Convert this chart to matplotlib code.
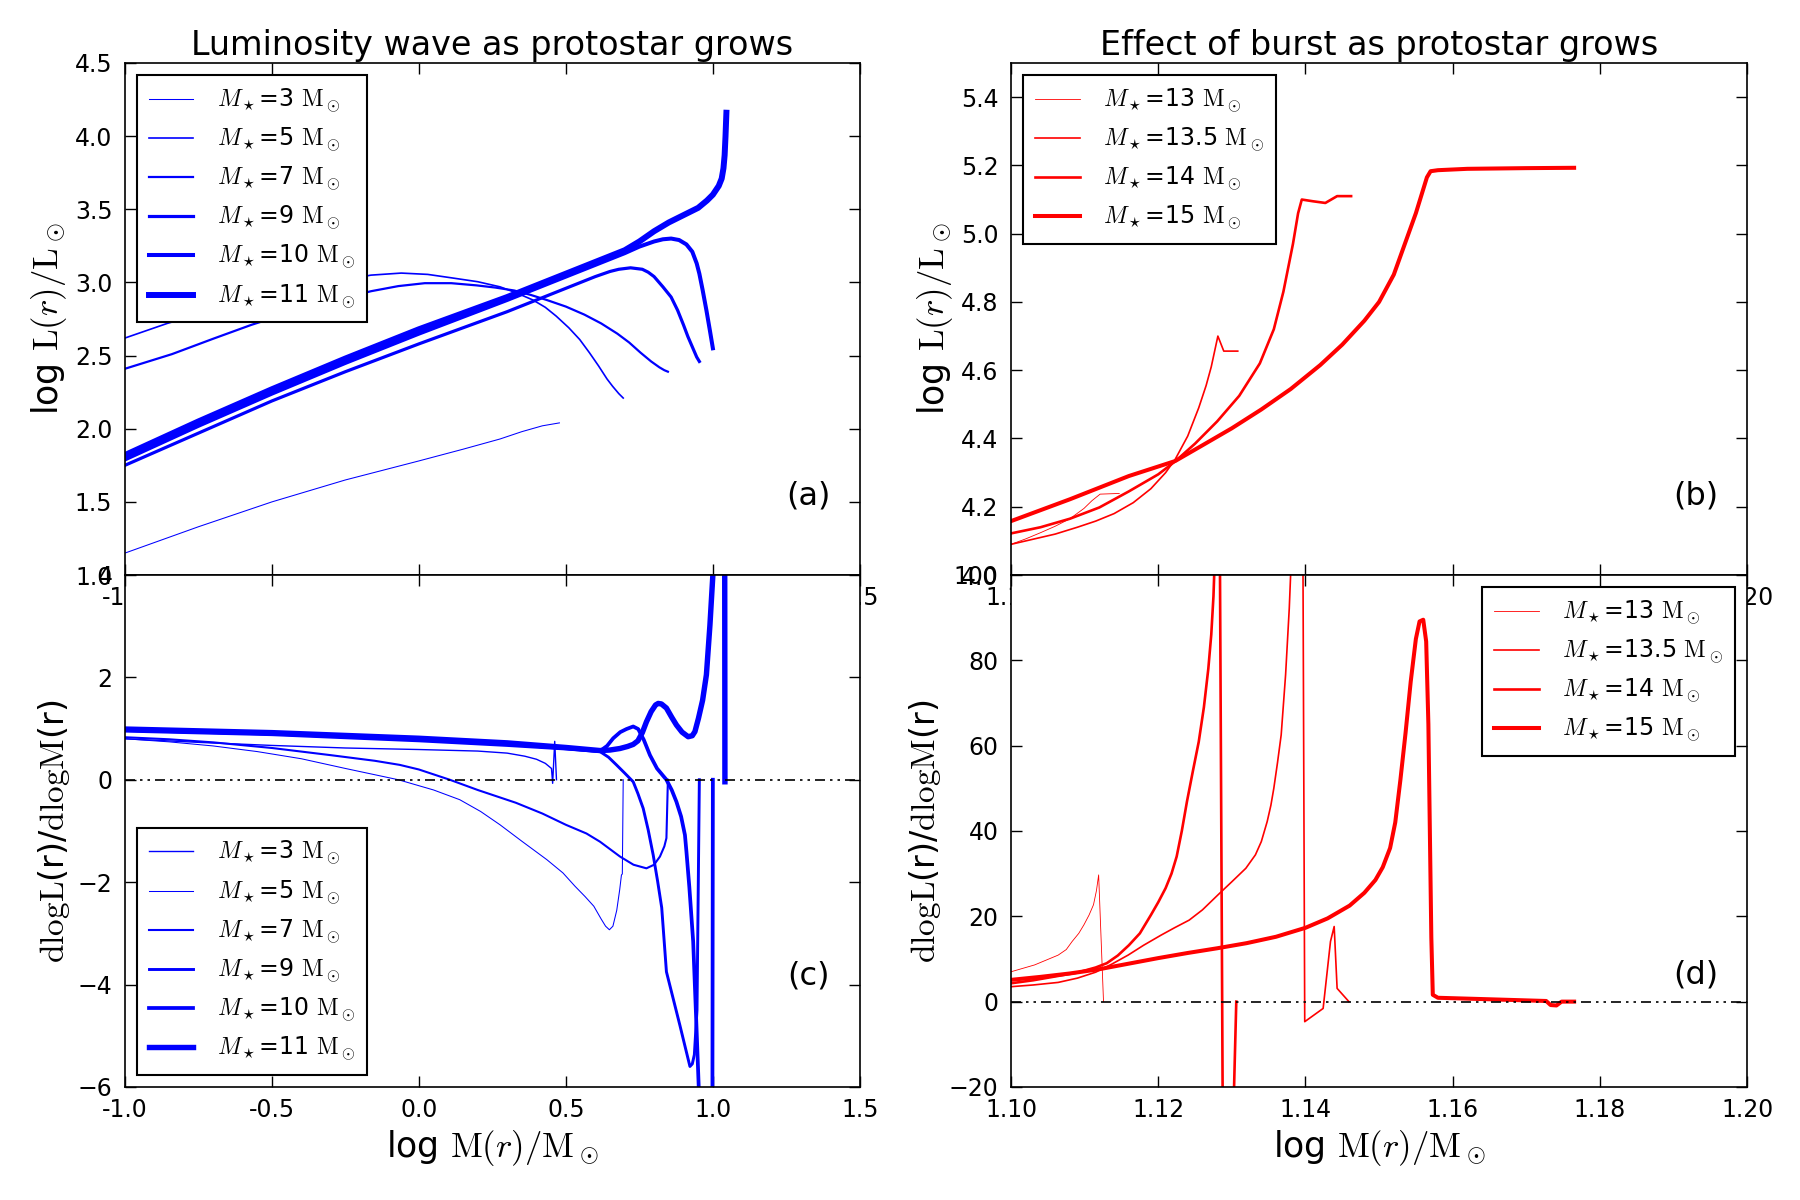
import matplotlib
matplotlib.use('Agg')
import matplotlib.pyplot as plt

plt.rcParams.update({
    'font.family': ['DejaVu Sans'],
    'mathtext.fontset': 'cm',
    'xtick.direction': 'in', 'ytick.direction': 'in',
    'xtick.top': True, 'ytick.right': True,
    'xtick.major.size': 8, 'ytick.major.size': 8,
    'xtick.major.width': 1, 'ytick.major.width': 1,
    'xtick.major.pad': 8, 'ytick.major.pad': 9,
    'xtick.labelsize': 17, 'ytick.labelsize': 17,
    'axes.linewidth': 1.2,
    'legend.fancybox': False,
    'legend.edgecolor': 'black',
    'legend.framealpha': 1,
})

# ---------------- panel (a): log L(r) ----------------
left_masses = ['3', '5', '7', '9', '10', '11']
a3_x = [-1.0, -0.75, -0.5, -0.25, 0.0, 0.15, 0.276, 0.35, 0.42, 0.478]
a3_y = [1.15, 1.33, 1.50, 1.65, 1.78, 1.86, 1.93, 1.98, 2.02, 2.04]
a5_x = [-1.0, -0.856, -0.7, -0.5, -0.3, -0.163, -0.06, 0.03, 0.116, 0.2, 0.276, 0.33, 0.388, 0.43,
        0.467, 0.51, 0.547, 0.58, 0.611, 0.64, 0.659, 0.68, 0.695]
a5_y = [2.62, 2.72, 2.81, 2.92, 3.00, 3.05, 3.064, 3.055, 3.03, 3.005, 2.97, 2.93, 2.88, 2.83,
        2.77, 2.69, 2.61, 2.52, 2.43, 2.34, 2.29, 2.24, 2.21]
a7_x = [-1.0, -0.84, -0.7, -0.57, -0.43, -0.3, -0.163, -0.07, 0.02, 0.11, 0.196, 0.26, 0.324, 0.38,
        0.435, 0.5, 0.563, 0.62, 0.675, 0.715, 0.754, 0.79, 0.818, 0.835, 0.847]
a7_y = [2.41, 2.51, 2.615, 2.71, 2.80, 2.87, 2.94, 2.975, 2.995, 2.995, 2.98, 2.965, 2.945, 2.915,
        2.88, 2.835, 2.78, 2.72, 2.65, 2.59, 2.52, 2.46, 2.42, 2.40, 2.39]
a9_x = [-1.0, -0.75, -0.5, -0.25, 0.0, 0.3, 0.5, 0.6, 0.65, 0.68, 0.72, 0.76, 0.78, 0.80, 0.83,
        0.858, 0.88, 0.90, 0.915, 0.93, 0.945, 0.954]
a9_y = [1.75, 1.97, 2.19, 2.39, 2.58, 2.80, 2.96, 3.04, 3.075, 3.09, 3.10, 3.09, 3.07, 3.04, 2.97,
        2.90, 2.81, 2.71, 2.63, 2.56, 2.49, 2.46]
a10_x = [-1.0, -0.75, -0.5, -0.25, 0.0, 0.3, 0.5, 0.6, 0.7, 0.75, 0.8, 0.83, 0.858, 0.885, 0.91,
         0.93, 0.945, 0.954, 0.965, 0.978, 0.99, 1.0]
a10_y = [1.79, 2.02, 2.24, 2.45, 2.65, 2.88, 3.04, 3.12, 3.20, 3.245, 3.28, 3.295, 3.30, 3.29, 3.26,
         3.21, 3.13, 3.06, 2.95, 2.81, 2.67, 2.55]
a11_x = [-1.0, -0.75, -0.5, -0.25, 0.0, 0.3, 0.5, 0.6, 0.7, 0.75, 0.8, 0.85, 0.9, 0.95, 0.98, 1.0,
         1.02, 1.03, 1.036, 1.04, 1.043, 1.046]
a11_y = [1.82, 2.05, 2.27, 2.48, 2.68, 2.90, 3.06, 3.14, 3.22, 3.28, 3.35, 3.41, 3.46, 3.51, 3.56, 3.60,
         3.66, 3.71, 3.78, 3.87, 4.00, 4.16]

# ---------------- panel (b): log L(r) ----------------
right_masses = ['13', '13.5', '14', '15']
b13_x = [1.100, 1.102, 1.104, 1.106, 1.108, 1.1099, 1.111, 1.1121, 1.1147]
b13_y = [4.09, 4.106, 4.124, 4.143, 4.165, 4.195, 4.218, 4.237, 4.239]
b13p5_x = [1.100, 1.103, 1.106, 1.109, 1.1115, 1.114, 1.1166, 1.119, 1.121, 1.1223, 1.124, 1.1255,
           1.1265, 1.1272, 1.1277, 1.1281, 1.1289, 1.1308]
b13p5_y = [4.09, 4.105, 4.12, 4.14, 4.158, 4.18, 4.212, 4.253, 4.30, 4.339, 4.407, 4.49,
           4.555, 4.61, 4.66, 4.70, 4.656, 4.656]
b14_x = [1.100, 1.104, 1.108, 1.112, 1.116, 1.120, 1.1223, 1.125, 1.128, 1.131, 1.1338, 1.1357,
         1.137, 1.1383, 1.139, 1.1395, 1.141, 1.1427, 1.1435, 1.1443, 1.1462]
b14_y = [4.122, 4.14, 4.165, 4.198, 4.245, 4.295, 4.333, 4.385, 4.45, 4.525, 4.62, 4.72,
         4.83, 4.97, 5.06, 5.10, 5.095, 5.09, 5.10, 5.11, 5.11]
b15_x = [1.100, 1.104, 1.108, 1.112, 1.116, 1.1223, 1.126, 1.130, 1.134, 1.138, 1.142, 1.145, 1.148,
         1.150, 1.152, 1.1535, 1.155, 1.156, 1.1565, 1.157, 1.158, 1.162, 1.170, 1.1765]
b15_y = [4.158, 4.19, 4.222, 4.256, 4.29, 4.334, 4.38, 4.43, 4.485, 4.545, 4.615, 4.675, 4.745,
         4.80, 4.88, 4.97, 5.06, 5.13, 5.165, 5.183, 5.186, 5.19, 5.192, 5.193]

# ---------------- panel (c): dlogL/dlogM ----------------
c3_x = [-1.0, -0.75, -0.5, -0.25, 0.0, 0.2, 0.3, 0.36, 0.4, 0.43, 0.451, 0.455, 0.462, 0.468]
c3_y = [0.80, 0.73, 0.67, 0.62, 0.59, 0.56, 0.52, 0.46, 0.40, 0.32, 0.22, -0.07, 0.75, 0.0]
c5_x = [-1.0, -0.85, -0.7, -0.55, -0.4, -0.25, -0.07, 0.05, 0.139, 0.21, 0.276, 0.35, 0.435, 0.49,
        0.531, 0.565, 0.595, 0.62, 0.635, 0.648, 0.66, 0.673, 0.683, 0.689, 0.692, 0.695]
c5_y = [0.80, 0.74, 0.66, 0.55, 0.41, 0.22, 0.0, -0.2, -0.39, -0.62, -0.88, -1.2, -1.56, -1.82,
        -2.08, -2.28, -2.47, -2.72, -2.86, -2.93, -2.86, -2.55, -2.15, -1.86, -1.84, 0.0]
c7_x = [-1.0, -0.85, -0.7, -0.5, -0.3, -0.15, -0.065, 0.0, 0.105, 0.2, 0.33, 0.42, 0.5, 0.57, 0.616,
        0.684, 0.73, 0.774, 0.80, 0.82, 0.835, 0.842, 0.847]
c7_y = [0.83, 0.79, 0.73, 0.62, 0.48, 0.37, 0.29, 0.2, 0.0, -0.2, -0.45, -0.66, -0.88, -1.05, -1.21,
        -1.5, -1.66, -1.73, -1.66, -1.5, -1.3, -1.14, 0.0]
c9_x = [-1.0, -0.5, 0.0, 0.3, 0.5, 0.616, 0.645, 0.672, 0.70, 0.729, 0.745, 0.763, 0.78, 0.797,
        0.812, 0.826, 0.842, 0.888, 0.905, 0.922, 0.93, 0.937, 0.946, 0.954]
c9_y = [0.95, 0.88, 0.76, 0.67, 0.60, 0.55, 0.44, 0.29, 0.13, -0.04, -0.27, -0.56, -0.98, -1.47,
        -1.98, -2.5, -3.75, -4.8, -5.2, -5.6, -5.55, -5.37, -4.5, 0.0]
c10_x = [-1.0, -0.5, 0.0, 0.3, 0.5, 0.616, 0.64, 0.661, 0.685, 0.706, 0.729, 0.746, 0.765, 0.786,
         0.81, 0.842, 0.86, 0.876, 0.892, 0.905, 0.91, 0.92, 0.933, 0.944, 0.952, 0.97, 0.998, 1.0]
c10_y = [0.97, 0.90, 0.79, 0.70, 0.62, 0.56, 0.66, 0.81, 0.93, 0.99, 1.04, 0.99, 0.78, 0.48,
         0.22, 0.0, -0.2, -0.43, -0.72, -1.08, -1.4, -2.1, -3.16, -4.79, -6.02, -8.0, -8.0, 0.0]
c11_x = [-1.0, -0.5, 0.0, 0.3, 0.5, 0.616, 0.65, 0.684, 0.71, 0.729, 0.745, 0.76, 0.774, 0.79,
         0.805, 0.814, 0.825, 0.842, 0.86, 0.876, 0.895, 0.916, 0.93, 0.939, 0.951, 0.965, 0.978,
         0.99, 1.0, 1.005, 1.04, 1.041]
c11_y = [0.99, 0.92, 0.81, 0.72, 0.63, 0.57, 0.58, 0.61, 0.65, 0.69, 0.76, 0.92, 1.13, 1.33,
         1.46, 1.49, 1.48, 1.40, 1.22, 1.07, 0.93, 0.84, 0.86, 0.94, 1.20, 1.55, 2.05,
         3.02, 4.0, 5.0, 6.0, -0.04]

# ---------------- panel (d): dlogL/dlogM ----------------
d13_x = [1.100, 1.1032, 1.1064, 1.1075, 1.1083, 1.1092, 1.1099, 1.1106, 1.1112, 1.1116, 1.1119, 1.11256]
d13_y = [7.0, 8.6, 10.9, 12.2, 14.1, 16.0, 18.0, 20.3, 22.7, 26.0, 29.7, 0.0]
d13p5_x = [1.100, 1.103, 1.1064, 1.109, 1.1115, 1.1137, 1.1159, 1.118, 1.1204, 1.1222, 1.1242, 1.126,
           1.1281, 1.130, 1.1319, 1.1332, 1.134, 1.1348, 1.1353, 1.1357, 1.1362, 1.1367, 1.1373,
           1.1378, 1.1381, 1.1385, 1.1396, 1.1399, 1.1424, 1.1434, 1.1439, 1.1443, 1.1459]
d13p5_y = [3.5, 3.9, 4.5, 5.5, 6.9, 8.8, 10.9, 13.2, 15.6, 17.3, 19.1, 21.5,
           25.0, 28.1, 31.25, 34.4, 37.5, 42.2, 46.0, 50.0, 56.0, 62.5, 76.6,
           92.2, 105.0, 130.0, 130.0, -4.7, -1.6, 14.1, 17.6, 3.1, 0.0]
d14_x = [1.100, 1.103, 1.106, 1.109, 1.1115, 1.113, 1.1145, 1.116, 1.1175, 1.119, 1.120, 1.121,
         1.1218, 1.1225, 1.1232, 1.1239, 1.1247, 1.1255, 1.1262, 1.1268, 1.1272, 1.1275, 1.1278,
         1.1281, 1.1283, 1.1288, 1.1300, 1.1306]
d14_y = [4.3, 5.0, 5.9, 6.8, 8.0, 9.0, 10.8, 13.2, 16.0, 20.3, 23.3, 26.6,
         30.0, 34.0, 40.0, 46.9, 54.0, 60.9, 69.0, 78.0, 86.0, 95.0, 110.0,
         130.0, 130.0, -40.0, -40.0, 0.0]
d15_x = [1.100, 1.104, 1.108, 1.112, 1.116, 1.120, 1.124, 1.128, 1.132, 1.136, 1.140, 1.143, 1.146,
         1.148, 1.1495, 1.1505, 1.1515, 1.1522, 1.1529, 1.1536, 1.1543, 1.155, 1.1555, 1.156, 1.1564,
         1.1567, 1.1569, 1.1571, 1.1573, 1.158, 1.164, 1.1727, 1.1733, 1.1741, 1.1748, 1.1765]
d15_y = [5.1, 5.8, 6.6, 7.6, 8.9, 10.2, 11.4, 12.5, 13.7, 15.2, 17.3, 19.5, 22.5,
         25.5, 28.5, 31.5, 36.0, 42.0, 52.0, 63.0, 75.0, 85.0, 89.1, 89.5, 84.4,
         65.0, 40.0, 15.0, 1.6, 0.9, 0.6, 0.15, -0.8, -0.9, 0.0, 0.0]

left_ticks = [-1.0, -0.5, 0.0, 0.5, 1.0, 1.5]
right_ticks = [1.10, 1.12, 1.14, 1.16, 1.18, 1.20]


def lab(m):
    return r'$M_\star$=' + m + r' $\mathrm{M}_\odot$'


fig = plt.figure(figsize=(18, 12), dpi=100)
fig.patch.set_facecolor('white')
axa = fig.add_axes([0.0694, 0.5208, 0.4083, 0.4267])
axb = fig.add_axes([0.5617, 0.5208, 0.4089, 0.4267])
axc = fig.add_axes([0.0694, 0.0942, 0.4083, 0.4267])
axd = fig.add_axes([0.5617, 0.0942, 0.4089, 0.4267])

leg_kw = dict(fontsize=17, handlelength=1.9, handletextpad=1.0, labelspacing=0.47,
              borderpad=0.5, borderaxespad=0.5)
zero_dashes = (6, 3, 1.5, 3, 1.5, 3)

# (a)
lw_a = [0.75, 1.2, 1.6, 2.3, 2.9, 4.3]
for xs, ys, m, lw in zip([a3_x, a5_x, a7_x, a9_x, a10_x, a11_x],
                         [a3_y, a5_y, a7_y, a9_y, a10_y, a11_y], left_masses, lw_a):
    axa.plot(xs, ys, color='blue', lw=lw, label=lab(m))
axa.set_xlim(-1.0, 1.5)
axa.set_ylim(1.0, 4.5)
axa.set_xticks(left_ticks)
axa.set_xticklabels(['%.1f' % t for t in left_ticks])
axa.set_yticks([1.0, 1.5, 2.0, 2.5, 3.0, 3.5, 4.0, 4.5])
axa.set_yticklabels(['1.0', '1.5', '2.0', '2.5', '3.0', '3.5', '4.0', '4.5'])
axa.set_ylabel(r'log $\mathrm{L}(r)/\mathrm{L}_\odot$', fontsize=25)
axa.set_title('Luminosity wave as protostar grows', fontsize=24)
axa.legend(loc='upper left', **leg_kw).get_frame().set_linewidth(1.5)
axa.text(0.93, 0.154, '(a)', transform=axa.transAxes, fontsize=23, ha='center', va='center')

# (b)
lw_b = [0.6, 1.2, 1.9, 2.9]
for xs, ys, m, lw in zip([b13_x, b13p5_x, b14_x, b15_x],
                         [b13_y, b13p5_y, b14_y, b15_y], right_masses, lw_b):
    axb.plot(xs, ys, color='red', lw=lw, label=lab(m))
axb.set_xlim(1.10, 1.20)
axb.set_ylim(4.0, 5.5)
axb.set_xticks(right_ticks)
axb.set_xticklabels(['%.2f' % t for t in right_ticks])
axb.set_yticks([4.0, 4.2, 4.4, 4.6, 4.8, 5.0, 5.2, 5.4])
axb.set_yticklabels(['4.0', '4.2', '4.4', '4.6', '4.8', '5.0', '5.2', '5.4'])
axb.set_ylabel(r'log $\mathrm{L}(r)/\mathrm{L}_\odot$', fontsize=25)
axb.set_title('Effect of burst as protostar grows', fontsize=24)
axb.legend(loc='upper left', **leg_kw).get_frame().set_linewidth(1.5)
axb.text(0.93, 0.154, '(b)', transform=axb.transAxes, fontsize=23, ha='center', va='center')

# (c)
lw_c = [1.0, 0.75, 1.5, 2.1, 2.7, 3.9]
for xs, ys, m, lw in zip([c3_x, c5_x, c7_x, c9_x, c10_x, c11_x],
                         [c3_y, c5_y, c7_y, c9_y, c10_y, c11_y], left_masses, lw_c):
    axc.plot(xs, ys, color='blue', lw=lw, label=lab(m))
axc.axhline(0, color='black', lw=1.2, dashes=zero_dashes)
axc.set_xlim(-1.0, 1.5)
axc.set_ylim(-6, 4)
axc.set_xticks(left_ticks)
axc.set_xticklabels(['%.1f' % t for t in left_ticks])
axc.set_yticks([-6, -4, -2, 0, 2, 4])
axc.set_yticklabels(['\u22126', '\u22124', '\u22122', '0', '2', '4'])
axc.set_xlabel(r'log $\mathrm{M}(r)/\mathrm{M}_\odot$', fontsize=25)
axc.set_ylabel(r'$\mathrm{dlogL}$(r)/$\mathrm{dlogM}$(r)', fontsize=24)
axc.legend(loc='lower left', **leg_kw).get_frame().set_linewidth(1.5)
axc.text(0.93, 0.217, '(c)', transform=axc.transAxes, fontsize=23, ha='center', va='center')

# (d)
lw_d = [0.6, 1.2, 1.9, 2.9]
for xs, ys, m, lw in zip([d13_x, d13p5_x, d14_x, d15_x],
                         [d13_y, d13p5_y, d14_y, d15_y], right_masses, lw_d):
    axd.plot(xs, ys, color='red', lw=lw, label=lab(m))
axd.axhline(0, color='black', lw=1.2, dashes=zero_dashes)
axd.set_xlim(1.10, 1.20)
axd.set_ylim(-20, 100)
axd.set_xticks(right_ticks)
axd.set_xticklabels(['%.2f' % t for t in right_ticks])
axd.set_yticks([-20, 0, 20, 40, 60, 80, 100])
axd.set_yticklabels(['\u221220', '0', '20', '40', '60', '80', '100'])
axd.set_xlabel(r'log $\mathrm{M}(r)/\mathrm{M}_\odot$', fontsize=25)
axd.set_ylabel(r'$\mathrm{dlogL}$(r)/$\mathrm{dlogM}$(r)', fontsize=24)
axd.legend(loc='upper right', **leg_kw).get_frame().set_linewidth(1.5)
axd.text(0.93, 0.219, '(d)', transform=axd.transAxes, fontsize=23, ha='center', va='center')

fig.savefig('out.png', dpi=100, facecolor='white')
